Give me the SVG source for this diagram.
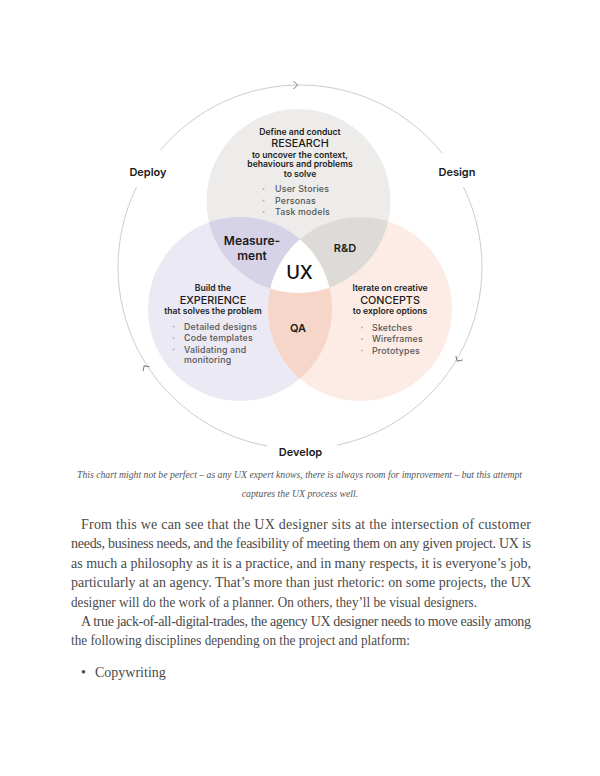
<svg xmlns="http://www.w3.org/2000/svg" width="600" height="776" viewBox="0 0 600 776">
<style>
.sans{font-family:Inter,"Liberation Sans",sans-serif}
.h{font-family:Inter,"Liberation Sans",sans-serif;font-weight:600;fill:#222;font-size:8.6px;text-anchor:middle}
.big{font-family:Inter,"Liberation Sans",sans-serif;font-weight:500;fill:#1a1a1a;font-size:10.8px;text-anchor:middle}
.li{font-family:Inter,"Liberation Sans",sans-serif;font-weight:500;fill:#555;font-size:8.8px;letter-spacing:0.2px}
.dot{fill:#bbb}
.lab{font-family:Inter,"Liberation Sans",sans-serif;font-weight:600;fill:#1a1a1a;font-size:11px;text-anchor:middle}
.ring{fill:none;stroke:#c6c6c6;stroke-width:0.9}
.chev{fill:none;stroke:#666;stroke-width:0.9}
.cap{font-family:"Liberation Serif",serif;font-style:italic;fill:#555;font-size:9.8px}
.body{font-family:"Liberation Serif",serif;fill:#4a4a4a;font-size:14px}
</style>
<defs>
<clipPath id="cT"><circle cx="298.5" cy="201" r="92"/></clipPath>
<clipPath id="cL"><circle cx="240" cy="309" r="92"/></clipPath>
</defs>
<rect width="600" height="776" fill="#fff"/>

<g id="connectors">
<path class="ring" d="M160.2,150.5 A182,182 0 0 1 442.2,153.4"/>
<path class="ring" d="M463.4,186.9 A182,182 0 0 1 336.9,445.2"/>
<path class="ring" d="M267.1,446 A182,182 0 0 1 136.6,186.9"/>
<path class="chev" d="M-2.5,-4 L1.5,0 L-2.5,4" transform="translate(296,85)"/>
<path class="chev" d="M-2.5,-4 L1.5,0 L-2.5,4" transform="translate(458,360) rotate(120.5)"/>
<path class="chev" d="M-2.5,-4 L1.5,0 L-2.5,4" transform="translate(145,367) rotate(-122.8)"/>
</g>

<g id="circles">
<circle id="research" cx="298.5" cy="201" r="92" fill="#edecea"/>
<circle id="experience" cx="240" cy="309" r="92" fill="#ebe9f4"/>
<circle id="concepts" cx="360" cy="309" r="92" fill="#fcece5"/>
<circle id="measurement" cx="240" cy="309" r="92" fill="#d6d2e7" clip-path="url(#cT)"/>
<circle id="rnd" cx="360" cy="309" r="92" fill="#dddbd8" clip-path="url(#cT)"/>
<circle id="qa" cx="360" cy="309" r="92" fill="#f5d6c9" clip-path="url(#cL)"/>
<g clip-path="url(#cL)"><circle id="ux" cx="360" cy="309" r="92" fill="#fff" clip-path="url(#cT)"/></g>
</g>

<g id="node-research">
<text class="h" x="300" y="135">Define and conduct</text>
<text class="big" x="300" y="147">RESEARCH</text>
<text class="h" x="300" y="157.5">to uncover the context,</text>
<text class="h" x="300" y="167">behaviours and problems</text>
<text class="h" x="300" y="176.5">to solve</text>
<circle class="dot" cx="263.5" cy="189" r="1.1"/>
<circle class="dot" cx="263.5" cy="200.5" r="1.1"/>
<circle class="dot" cx="263.5" cy="212" r="1.1"/>
<text class="li" x="275" y="192">User Stories</text>
<text class="li" x="275" y="203.5">Personas</text>
<text class="li" x="275" y="215">Task models</text>
</g>

<g id="node-experience">
<text class="h" x="213" y="291">Build the</text>
<text class="big" x="213" y="304">EXPERIENCE</text>
<text class="h" x="213" y="314">that solves the problem</text>
<circle class="dot" cx="173.5" cy="326.5" r="1.1"/>
<circle class="dot" cx="173.5" cy="338" r="1.1"/>
<circle class="dot" cx="173.5" cy="349.5" r="1.1"/>
<text class="li" x="184" y="329.5">Detailed designs</text>
<text class="li" x="184" y="341">Code templates</text>
<text class="li" x="184" y="352.5">Validating and</text>
<text class="li" x="184" y="362.5">monitoring</text>
</g>

<g id="node-concepts">
<text class="h" x="390" y="291">Iterate on creative</text>
<text class="big" x="390" y="304">CONCEPTS</text>
<text class="h" x="390" y="314">to explore options</text>
<circle class="dot" cx="362" cy="327.5" r="1.1"/>
<circle class="dot" cx="362" cy="339" r="1.1"/>
<circle class="dot" cx="362" cy="350.5" r="1.1"/>
<text class="li" x="372" y="330.5">Sketches</text>
<text class="li" x="372" y="342">Wireframes</text>
<text class="li" x="372" y="353.5">Prototypes</text>
</g>

<g id="node-overlaps">
<text class="sans" x="252" y="244.5" font-size="12px" font-weight="600" fill="#1a1a1a" text-anchor="middle">Measure-</text>
<text class="sans" x="252" y="259.5" font-size="12px" font-weight="600" fill="#1a1a1a" text-anchor="middle">ment</text>
<text class="sans" x="345" y="252" font-size="11px" font-weight="600" fill="#1a1a1a" text-anchor="middle">R&amp;D</text>
<text class="sans" x="299.5" y="278.5" font-size="18.5px" font-weight="500" fill="#111" text-anchor="middle">UX</text>
<text class="sans" x="298" y="332" font-size="11px" font-weight="600" fill="#1a1a1a" text-anchor="middle">QA</text>
</g>

<g id="node-stages">
<text class="lab" x="148" y="176">Deploy</text>
<text class="lab" x="457" y="176">Design</text>
<text class="lab" x="300.5" y="456">Develop</text>
</g>

<g id="caption">
<text class="cap" x="77" y="478" textLength="445" lengthAdjust="spacingAndGlyphs">This chart might not be perfect – as any UX expert knows, there is always room for improvement – but this attempt</text>
<text class="cap" x="300" y="497" text-anchor="middle">captures the UX process well.</text>
</g>

<g id="body">
<text class="body" x="81" y="529" textLength="450" lengthAdjust="spacing">From this we can see that the UX designer sits at the intersection of customer</text>
<text class="body" x="71" y="548" textLength="460" lengthAdjust="spacing">needs, business needs, and the feasibility of meeting them on any given project. UX is</text>
<text class="body" x="71" y="567.5" textLength="460" lengthAdjust="spacing">as much a philosophy as it is a practice, and in many respects, it is everyone’s job,</text>
<text class="body" x="71" y="587" textLength="460" lengthAdjust="spacing">particularly at an agency. That’s more than just rhetoric: on some projects, the UX</text>
<text class="body" x="71" y="606.5" textLength="406" lengthAdjust="spacingAndGlyphs">designer will do the work of a planner. On others, they’ll be visual designers.</text>
<text class="body" x="81" y="626" textLength="450" lengthAdjust="spacing">A true jack-of-all-digital-trades, the agency UX designer needs to move easily among</text>
<text class="body" x="71" y="645" textLength="339" lengthAdjust="spacingAndGlyphs">the following disciplines depending on the project and platform:</text>
<text class="body" x="81" y="677">•</text>
<text class="body" x="95" y="677">Copywriting</text>
</g>
</svg>
